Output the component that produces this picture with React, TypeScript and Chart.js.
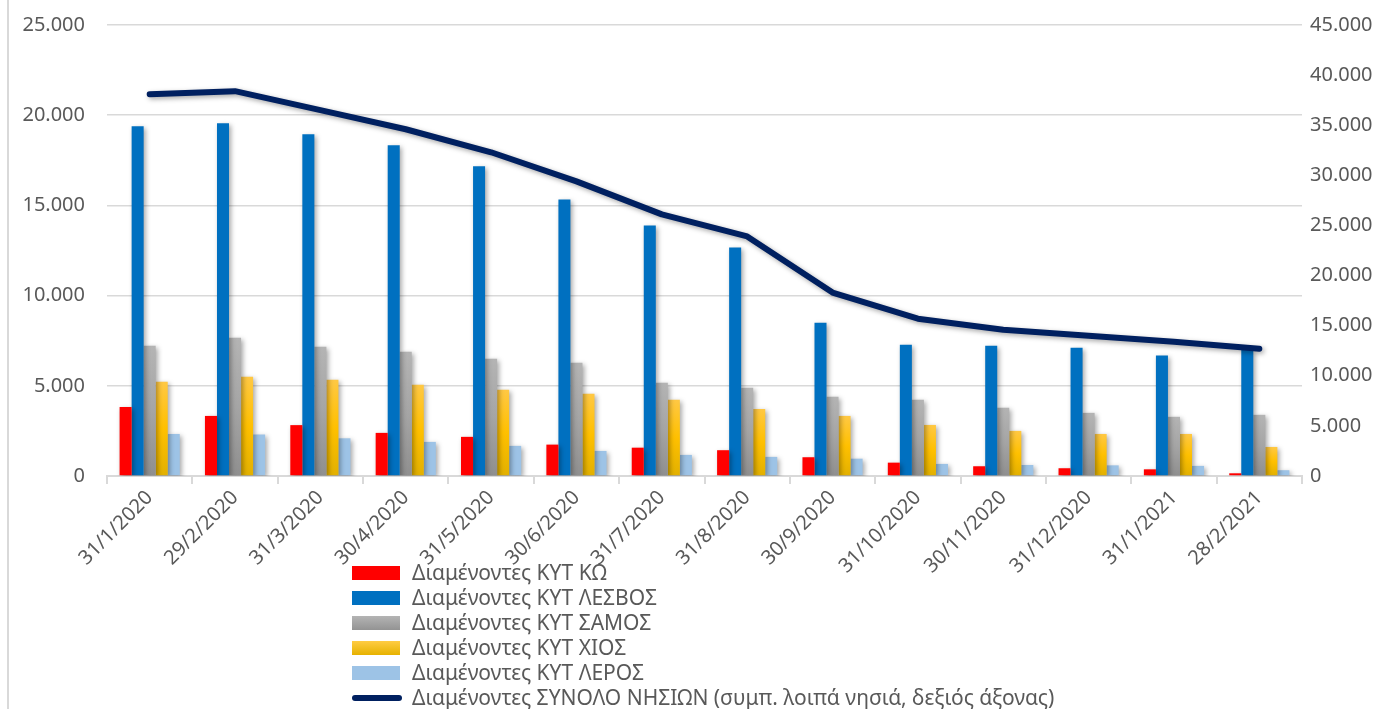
import React, { useEffect, useRef } from "react";
import { Chart, registerables } from "chart.js";

Chart.register(...registerables);

const categories = ["31/1/2020", "29/2/2020", "31/3/2020", "30/4/2020", "31/5/2020", "30/6/2020", "31/7/2020", "31/8/2020", "30/9/2020", "31/10/2020", "30/11/2020", "31/12/2020", "31/1/2021", "28/2/2021"];
const kos = [3830, 3330, 2820, 2390, 2170, 1740, 1570, 1430, 1040, 740, 540, 430, 370, 150];
const lesvos = [19390, 19560, 18940, 18330, 17170, 15330, 13890, 12670, 8500, 7280, 7220, 7110, 6680, 7000];
const samos = [7220, 7670, 7170, 6890, 6500, 6280, 5170, 4890, 4390, 4220, 3780, 3500, 3280, 3390];
const chios = [5220, 5500, 5330, 5060, 4780, 4560, 4220, 3720, 3330, 2830, 2500, 2330, 2330, 1610];
const leros = [2330, 2300, 2090, 1890, 1670, 1390, 1170, 1060, 960, 670, 610, 590, 560, 320];
const total = [38100, 38400, 36500, 34600, 32300, 29400, 26100, 23900, 18300, 15700, 14600, 14000, 13400, 12700];

const labels = [
  "Διαμένοντες ΚΥΤ ΚΩ",
  "Διαμένοντες ΚΥΤ ΛΕΣΒΟΣ",
  "Διαμένοντες ΚΥΤ ΣΑΜΟΣ",
  "Διαμένοντες ΚΥΤ ΧΙΟΣ",
  "Διαμένοντες ΚΥΤ ΛΕΡΟΣ",
  "Διαμένοντες ΣΥΝΟΛΟ ΝΗΣΙΩΝ (συμπ. λοιπά νησιά, δεξιός άξονας)",
];

const FONT = "'Noto Sans', sans-serif";
const TXT = "#595959";

const fmt = (v: number) => String(v).replace(/\B(?=(\d{3})+(?!\d))/g, ".");

function grad(top: string, mid: string, bottom: string) {
  return (ctx: any) => {
    const chart = ctx.chart;
    if (!chart.chartArea || ctx.type !== "data") return mid;
    const y = chart.scales.y;
    const t = y.getPixelForValue(ctx.raw);
    const b = y.getPixelForValue(0);
    if (!isFinite(t) || b - t < 1) return mid;
    const g = chart.ctx.createLinearGradient(0, t, 0, b);
    g.addColorStop(0, top);
    g.addColorStop(0.5, mid);
    g.addColorStop(1, bottom);
    return g;
  };
}

const shadowPlugin = {
  id: "shadow",
  beforeDatasetDraw(chart: any) {
    const c = chart.ctx;
    c.save();
    c.shadowColor = "rgba(0,0,0,0.35)";
    c.shadowBlur = 5;
    c.shadowOffsetX = 2;
    c.shadowOffsetY = 2;
  },
  afterDatasetDraw(chart: any) {
    chart.ctx.restore();
  },
};

export default function App() {
  const ref = useRef<HTMLCanvasElement>(null);
  useEffect(() => {
    const bar = (label: string, data: number[], color: any) => ({
      type: "bar" as const,
      label,
      data,
      backgroundColor: color,
      borderWidth: 0,
      yAxisID: "y",
      order: 1,
      categoryPercentage: 0.705,
      barPercentage: 1,
    });
    const chart = new Chart(ref.current!, {
      type: "bar",
      data: {
        labels: categories,
        datasets: [
          bar(labels[0], kos, "#FF0000"),
          bar(labels[1], lesvos, "#0070C0"),
          bar(labels[2], samos, grad("#b4b4b4", "#a5a5a5", "#8f8f8f")),
          bar(labels[3], chios, grad("#ffc844", "#ffc000", "#e2b000")),
          bar(labels[4], leros, "#9DC3E6"),
          {
            type: "line" as const,
            label: labels[5],
            data: total,
            borderColor: "#002060",
            backgroundColor: "#002060",
            borderWidth: 6,
            pointRadius: 0,
            tension: 0,
            borderCapStyle: "round",
            borderJoinStyle: "round",
            yAxisID: "y1",
            order: 0,
          } as any,
        ],
      },
      options: {
        animation: false,
        responsive: false,
        layout: { padding: { top: 25, left: 0, right: 0, bottom: 0 } },
        plugins: { legend: { display: false }, tooltip: { enabled: false } },
        scales: {
          x: {
            offset: true,
            grid: { offset: true, drawOnChartArea: false, color: "#d9d9d9", lineWidth: 2, tickLength: 8 },
            border: { color: "#d9d9d9", width: 2 },
            ticks: { color: TXT, font: { family: FONT, size: 20 }, maxRotation: 45, minRotation: 45, autoSkip: false, padding: 2 },
            afterFit: (s: any) => { s.height = 233; },
          },
          y: {
            position: "left",
            min: 0,
            max: 25000,
            ticks: { stepSize: 5000, color: TXT, font: { family: FONT, size: 20 }, padding: 0, callback: (v: any) => fmt(Number(v)) },
            grid: { color: "#d9d9d9", lineWidth: 1.5, drawTicks: true, tickLength: 22, tickColor: "rgba(0,0,0,0)" },
            border: { display: false },
            afterFit: (s: any) => { s.width = 107; },
          },
          y1: {
            position: "right",
            min: 0,
            max: 45000,
            ticks: { stepSize: 5000, color: TXT, font: { family: FONT, size: 20 }, padding: 0, callback: (v: any) => fmt(Number(v)) },
            grid: { drawOnChartArea: false, drawTicks: true, tickLength: 8, tickColor: "rgba(0,0,0,0)" },
            border: { display: false },
            afterFit: (s: any) => { s.width = 94; },
          },
        },
      },
      plugins: [shadowPlugin],
    });
    return () => chart.destroy();
  }, []);

  const box = (bg: string) => ({ width: 48, height: 14, background: bg, marginRight: 12, flex: "none" as const });
  const legendItems = [
    box("#FF0000"),
    box("#0070C0"),
    box("linear-gradient(#b4b4b4, #939393)"),
    box("linear-gradient(#ffcc44, #e6b200)"),
    box("#9DC3E6"),
  ];

  return (
    <div style={{ position: "absolute", left: 0, top: 0, width: 1396, height: 709, background: "#fff", overflow: "hidden" }}>
      <div style={{ position: "absolute", left: 7, top: 0, width: 2, height: 709, background: "#d9d9d9" }} />
      <canvas ref={ref} width={1396} height={709} style={{ position: "absolute", left: 0, top: 0, width: 1396, height: 709 }} />
      <div style={{ position: "absolute", left: 352, top: 560, fontFamily: FONT, fontSize: 21, color: TXT, lineHeight: "25px" }}>
        {labels.map((l, i) => (
          <div key={i} style={{ display: "flex", alignItems: "center", height: 25, whiteSpace: "nowrap" }}>
            {i < 5 ? (
              <div style={legendItems[i]} />
            ) : (
              <div style={{ width: 50, height: 6, borderRadius: 3, background: "#002060", marginRight: 10, flex: "none" }} />
            )}
            <span>{l}</span>
          </div>
        ))}
      </div>
    </div>
  );
}
